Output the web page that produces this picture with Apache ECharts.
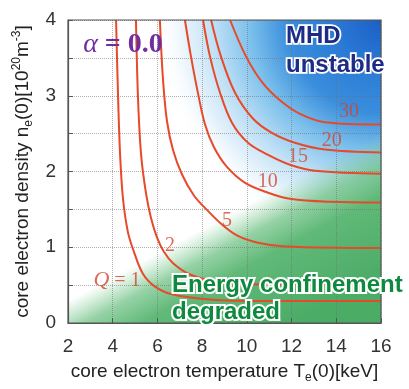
<!DOCTYPE html>
<html>
<head>
<meta charset="utf-8">
<script src="https://cdn.jsdelivr.net/npm/echarts@6/dist/echarts.min.js"></script>
<style>
  html, body { margin: 0; padding: 0; background: #fff; }
  #chart { width: 409px; height: 389px; }
</style>
</head>
<body>
<div id="chart"></div>
<script>
// axis ranges / ticks
const xMin = 2, xMax = 16, xStep = 2
const yMin = 0, yMax = 4, yStep = 0.5

// contour lines of Q, points are [Te(0) keV, ne(0) 1e20 m^-3]
const q1 = [[4.15, 4.0], [4.24, 2.98], [4.33, 2.22], [4.46, 1.64], [4.68, 1.2], [4.95, 0.94], [5.35, 0.65], [5.89, 0.48], [6.65, 0.38], [8.35, 0.31], [10.59, 0.29], [16, 0.29]]
const q2 = [[5.04, 4.0], [5.13, 2.98], [5.27, 2.22], [5.49, 1.71], [5.71, 1.39], [5.98, 1.13], [6.29, 0.94], [6.7, 0.79], [7.46, 0.64], [8.58, 0.55], [10.27, 0.51], [16, 0.51]]
const q5 = [[6.11, 4.0], [6.25, 3.21], [6.43, 2.66], [6.7, 2.28], [7.1, 1.96], [7.64, 1.68], [8.26, 1.48], [8.89, 1.3], [9.6, 1.15], [10.5, 1.06], [11.71, 1.01], [16, 0.99]]
const q10 = [[7.23, 4.0], [7.5, 3.52], [7.81, 3.04], [8.13, 2.62], [8.53, 2.32], [9.11, 2.06], [9.92, 1.85], [10.95, 1.72], [11.93, 1.64], [13.72, 1.6], [16, 1.59]]
const q15 = [[8.04, 4.0], [8.35, 3.52], [8.8, 3.04], [9.34, 2.64], [10.05, 2.38], [10.95, 2.22], [11.93, 2.09], [13.05, 2.01], [16, 1.97]]
const q20 = [[8.4, 4.0], [8.84, 3.52], [9.47, 3.04], [10.27, 2.7], [11.12, 2.51], [12.15, 2.38], [13.49, 2.29], [16, 2.25]]
const q30 = [[9.25, 4.0], [9.96, 3.52], [10.68, 3.18], [11.48, 2.94], [12.38, 2.76], [13.5, 2.65], [16, 2.62]]

// contour labels
const qLabels = ['30', '20', '15', '10', '5', '2', '{q|Q} = 1']
const qLabelT = [14.57, 13.8, 12.29, 10.94, 9.11, 6.56, 4.19]
const qLabelN = [2.79, 2.41, 2.19, 1.87, 1.35, 1.02, 0.56]

const lineColor = '#e64a2a'
const labelColor = '#d2452e'
const sans = '"Liberation Sans", Arial, sans-serif'
const serif = '"Liberation Serif", "Times New Roman", serif'

const chart = echarts.init(document.getElementById('chart'))

const contour = (data) => ({
  type: 'line',
  data,
  smooth: 0.35,
  symbol: 'none',
  z: 4,
  silent: true,
  lineStyle: { color: lineColor, width: 2 },
})

const option = {
  animation: false,
  backgroundColor: '#fff',
  grid: {
    left: 68, right: 28, top: 20, bottom: 55,
    show: true,
    z: 6,
    backgroundColor: 'transparent',
    borderColor: '#555',
    borderWidth: 1.2,
  },
  xAxis: {
    type: 'value',
    min: xMin, max: xMax, interval: xStep,
    z: 3,
    axisLine: { show: true, lineStyle: { color: '#555', width: 1.2 } },
    axisTick: { show: true, inside: true, length: 5, lineStyle: { color: '#555' } },
    axisLabel: { fontSize: 19, color: '#333', fontFamily: sans, margin: 14 },
    splitLine: { show: true, lineStyle: { color: 'rgba(110,110,110,0.55)', type: 'dotted', width: 1 } },
    name: '{m|core electron temperature T}{sub|e}{m|(0)[keV]}',
    nameLocation: 'middle',
    nameGap: 37,
    nameTextStyle: {
      color: '#222', fontFamily: sans,
      rich: {
        m: { fontSize: 19, fontFamily: sans, color: '#222', lineHeight: 24, verticalAlign: 'middle' },
        sub: { fontSize: 12, fontFamily: sans, color: '#222', lineHeight: 12, verticalAlign: 'bottom' },
      },
    },
  },
  yAxis: {
    type: 'value',
    min: yMin, max: yMax, interval: yStep,
    z: 3,
    axisLine: { show: true, lineStyle: { color: '#555', width: 1.2 } },
    axisTick: { show: true, inside: true, length: 5, lineStyle: { color: '#555' } },
    axisLabel: {
      fontSize: 19, color: '#333', fontFamily: sans, margin: 12,
      formatter: (v) => (Number.isInteger(v) ? String(v) : ''),
    },
    splitLine: { show: true, lineStyle: { color: 'rgba(110,110,110,0.55)', type: 'dotted', width: 1 } },
    name: '{m|core electron density n}{sub|e}{m|(0)[10}{sup|20}{m|m}{sup|-3}{m|]}',
    nameLocation: 'middle',
    nameRotate: 90,
    nameGap: 32,
    nameTextStyle: {
      color: '#222', fontFamily: sans,
      rich: {
        m: { fontSize: 19, fontFamily: sans, color: '#222', lineHeight: 24, verticalAlign: 'middle' },
        sub: { fontSize: 12, fontFamily: sans, color: '#222', lineHeight: 12, verticalAlign: 'bottom' },
        sup: { fontSize: 12, fontFamily: sans, color: '#222', lineHeight: 12, verticalAlign: 'top' },
      },
    },
  },
  series: [
    {
      // coloured regions: MHD unstable (blue, top right) and degraded confinement (green, lower right)
      type: 'custom',
      z: 1,
      silent: true,
      data: [[xMin, yMin]],
      renderItem: (params, api) => {
        const p0 = api.coord([xMin, yMax])
        const p1 = api.coord([xMax, yMin])
        const w = p1[0] - p0[0]
        const h = p1[1] - p0[1]
        const shape = { x: p0[0], y: p0[1], width: w, height: h }
        return {
          type: 'group',
          children: [
            {
              type: 'rect',
              shape,
              style: {
                fill: new echarts.graphic.RadialGradient(p1[0], p0[1], w, [
                  { offset: 0, color: '#1b5fc6' },
                  { offset: 0.15, color: '#2a7ad6' },
                  { offset: 0.3, color: '#3a8edc' },
                  { offset: 0.42, color: '#7cc0ec' },
                  { offset: 0.52, color: '#b6dcf4' },
                  { offset: 0.62, color: 'rgba(220,238,250,0.8)' },
                  { offset: 0.72, color: 'rgba(255,255,255,0)' },
                  { offset: 1, color: 'rgba(255,255,255,0)' },
                ], true),
              },
            },
            {
              type: 'rect',
              shape,
              style: {
                fill: new echarts.graphic.LinearGradient(
                  p0[0] + 0.385 * w, p0[1] + 0.508 * h, p0[0] + 0.661 * w, p0[1] + 1.04 * h, [
                    { offset: 0, color: 'rgba(140,210,160,0)' },
                    { offset: 0.3, color: 'rgba(135,208,155,0)' },
                    { offset: 0.45, color: 'rgba(122,198,142,0.8)' },
                    { offset: 0.6, color: 'rgba(96,185,120,1)' },
                    { offset: 1, color: 'rgba(75,172,102,1)' },
                  ], true),
              },
            },
          ],
        }
      },
    },
    contour(q1),
    contour(q2),
    contour(q5),
    contour(q10),
    contour(q15),
    contour(q20),
    contour(q30),
    {
      type: 'scatter',
      z: 5,
      silent: true,
      symbolSize: 1,
      itemStyle: { color: 'rgba(0,0,0,0)' },
      data: qLabels.map((t, i) => ({ value: [qLabelT[i], qLabelN[i]], name: t })),
      label: {
        show: true,
        position: 'inside',
        formatter: (p) => p.name,
        fontFamily: serif,
        fontSize: 20,
        color: labelColor,
        rich: {
          q: { fontFamily: serif, fontSize: 22, fontStyle: 'italic', color: labelColor },
        },
      },
    },
  ],
  graphic: [
    {
      type: 'text', x: 123, y: 45, z: 10,
      style: {
        text: '{a|α} = 0.0',
        font: 'bold 28px ' + serif,
        fill: '#6f2f9f',
        align: 'center', verticalAlign: 'middle',
        rich: { a: { fontStyle: 'italic', fontWeight: 'normal', fontSize: 28, fontFamily: serif, fill: '#6f2f9f' } },
      },
    },
    {
      type: 'text', x: 286, y: 36, z: 10,
      style: { text: 'MHD', font: 'bold 24px ' + sans, fill: '#1d2a86', stroke: '#fff', lineWidth: 3.5, align: 'left', verticalAlign: 'middle' },
    },
    {
      type: 'text', x: 286, y: 65, z: 10,
      style: { text: 'unstable', font: 'bold 24px ' + sans, fill: '#1d2a86', stroke: '#fff', lineWidth: 3.5, align: 'left', verticalAlign: 'middle' },
    },
    {
      type: 'text', x: 172, y: 285, z: 10,
      style: { text: 'Energy confinement', font: 'bold 24px ' + sans, fill: '#0e8a3e', stroke: '#fff', lineWidth: 4, align: 'left', verticalAlign: 'middle' },
    },
    {
      type: 'text', x: 172, y: 312, z: 10,
      style: { text: 'degraded', font: 'bold 24px ' + sans, fill: '#0e8a3e', stroke: '#fff', lineWidth: 4, align: 'left', verticalAlign: 'middle' },
    },
  ],
}

chart.setOption(option)
</script>
</body>
</html>
